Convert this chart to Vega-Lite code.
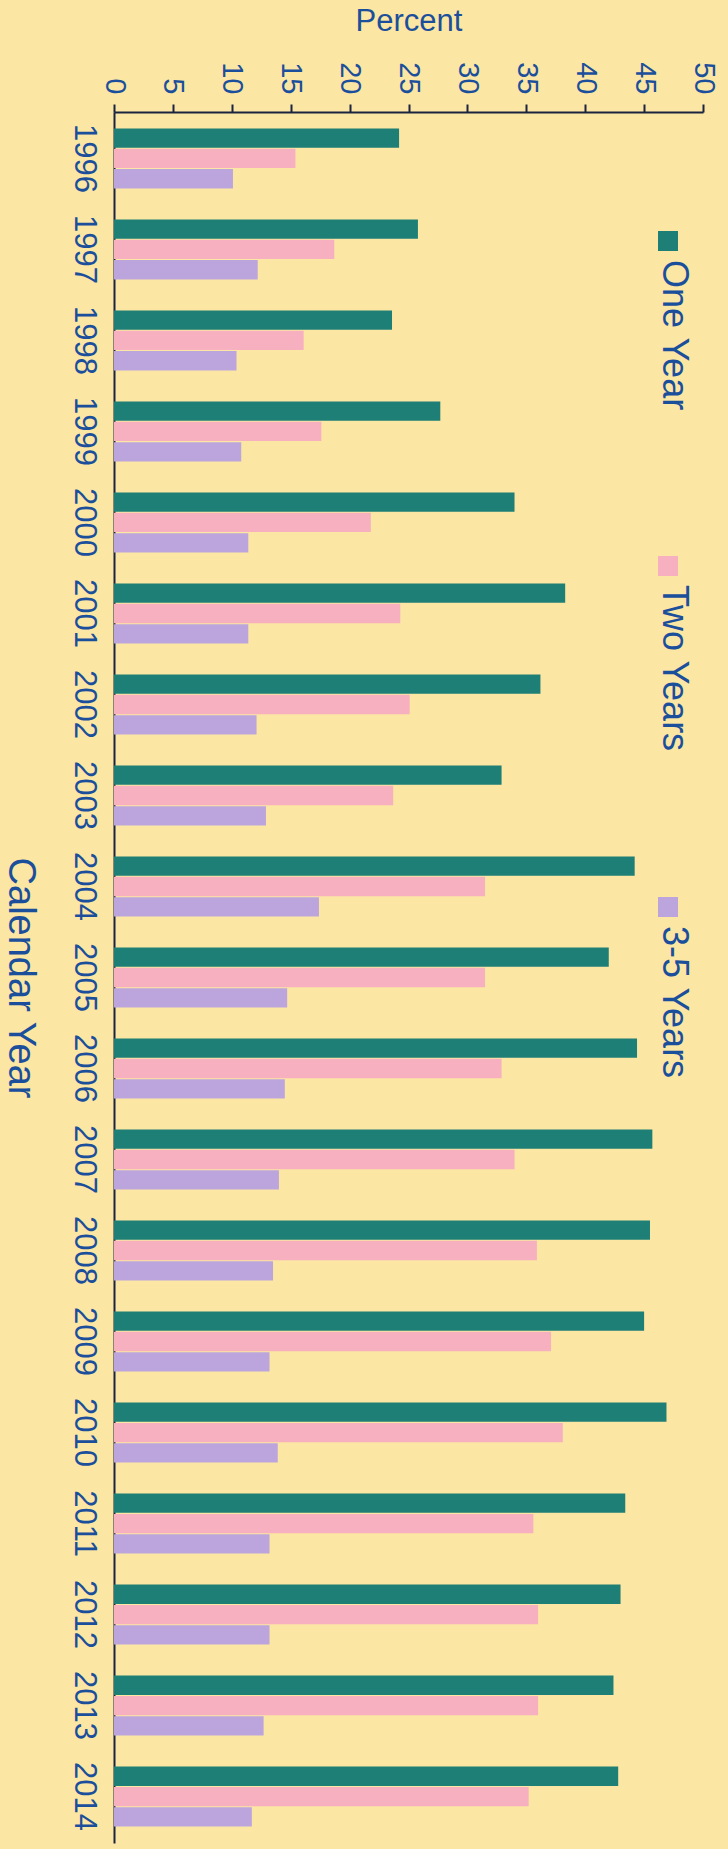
{
  "$schema": "https://vega.github.io/schema/vega-lite/v6.json",
  "width": 589,
  "height": 1731,
  "autosize": {"type": "none"},
  "padding": {"left": 114, "top": 112, "right": 25, "bottom": 6},
  "background": "#FBE6A3",
  "config": {"view": {"stroke": null}, "font": "Liberation Sans"},
  "data": {
    "values": [
      {"year": "1996", "series": "One Year", "pct": 24.2},
      {"year": "1996", "series": "Two Years", "pct": 15.4},
      {"year": "1996", "series": "3-5 Years", "pct": 10.1},
      {"year": "1997", "series": "One Year", "pct": 25.8},
      {"year": "1997", "series": "Two Years", "pct": 18.7},
      {"year": "1997", "series": "3-5 Years", "pct": 12.2},
      {"year": "1998", "series": "One Year", "pct": 23.6},
      {"year": "1998", "series": "Two Years", "pct": 16.1},
      {"year": "1998", "series": "3-5 Years", "pct": 10.4},
      {"year": "1999", "series": "One Year", "pct": 27.7},
      {"year": "1999", "series": "Two Years", "pct": 17.6},
      {"year": "1999", "series": "3-5 Years", "pct": 10.8},
      {"year": "2000", "series": "One Year", "pct": 34.0},
      {"year": "2000", "series": "Two Years", "pct": 21.8},
      {"year": "2000", "series": "3-5 Years", "pct": 11.4},
      {"year": "2001", "series": "One Year", "pct": 38.3},
      {"year": "2001", "series": "Two Years", "pct": 24.3},
      {"year": "2001", "series": "3-5 Years", "pct": 11.4},
      {"year": "2002", "series": "One Year", "pct": 36.2},
      {"year": "2002", "series": "Two Years", "pct": 25.1},
      {"year": "2002", "series": "3-5 Years", "pct": 12.1},
      {"year": "2003", "series": "One Year", "pct": 32.9},
      {"year": "2003", "series": "Two Years", "pct": 23.7},
      {"year": "2003", "series": "3-5 Years", "pct": 12.9},
      {"year": "2004", "series": "One Year", "pct": 44.2},
      {"year": "2004", "series": "Two Years", "pct": 31.5},
      {"year": "2004", "series": "3-5 Years", "pct": 17.4},
      {"year": "2005", "series": "One Year", "pct": 42.0},
      {"year": "2005", "series": "Two Years", "pct": 31.5},
      {"year": "2005", "series": "3-5 Years", "pct": 14.7},
      {"year": "2006", "series": "One Year", "pct": 44.4},
      {"year": "2006", "series": "Two Years", "pct": 32.9},
      {"year": "2006", "series": "3-5 Years", "pct": 14.5},
      {"year": "2007", "series": "One Year", "pct": 45.7},
      {"year": "2007", "series": "Two Years", "pct": 34.0},
      {"year": "2007", "series": "3-5 Years", "pct": 14.0},
      {"year": "2008", "series": "One Year", "pct": 45.5},
      {"year": "2008", "series": "Two Years", "pct": 35.9},
      {"year": "2008", "series": "3-5 Years", "pct": 13.5},
      {"year": "2009", "series": "One Year", "pct": 45.0},
      {"year": "2009", "series": "Two Years", "pct": 37.1},
      {"year": "2009", "series": "3-5 Years", "pct": 13.2},
      {"year": "2010", "series": "One Year", "pct": 46.9},
      {"year": "2010", "series": "Two Years", "pct": 38.1},
      {"year": "2010", "series": "3-5 Years", "pct": 13.9},
      {"year": "2011", "series": "One Year", "pct": 43.4},
      {"year": "2011", "series": "Two Years", "pct": 35.6},
      {"year": "2011", "series": "3-5 Years", "pct": 13.2},
      {"year": "2012", "series": "One Year", "pct": 43.0},
      {"year": "2012", "series": "Two Years", "pct": 36.0},
      {"year": "2012", "series": "3-5 Years", "pct": 13.2},
      {"year": "2013", "series": "One Year", "pct": 42.4},
      {"year": "2013", "series": "Two Years", "pct": 36.0},
      {"year": "2013", "series": "3-5 Years", "pct": 12.7},
      {"year": "2014", "series": "One Year", "pct": 42.8},
      {"year": "2014", "series": "Two Years", "pct": 35.2},
      {"year": "2014", "series": "3-5 Years", "pct": 11.7}
    ]
  },
  "mark": {"type": "bar"},
  "encoding": {
    "y": {
      "field": "year",
      "type": "nominal",
      "scale": {"paddingInner": 0.34, "paddingOuter": 0.18},
      "axis": {
        "title": "Calendar Year",
        "titleAngle": 90,
        "titleBaseline": "top",
        "titleFontSize": 38,
        "titleFontWeight": "normal",
        "titleColor": "#1B4F9C",
        "titlePadding": 30,
        "labelAngle": 90,
        "labelAlign": "center",
        "labelBaseline": "top",
        "labelFontSize": 31,
        "labelColor": "#1B4F9C",
        "labelPadding": 16,
        "ticks": false,
        "domainColor": "#1A2340",
        "domainWidth": 2
      }
    },
    "x": {
      "field": "pct",
      "type": "quantitative",
      "scale": {"domain": [0, 50]},
      "axis": {
        "orient": "top",
        "values": [0, 5, 10, 15, 20, 25, 30, 35, 40, 45, 50],
        "grid": false,
        "title": "Percent",
        "titleFontSize": 31,
        "titleFontWeight": "normal",
        "titleColor": "#1B4F9C",
        "titlePadding": 24,
        "labelAngle": 90,
        "labelAlign": "right",
        "labelBaseline": "middle",
        "labelFontSize": 29,
        "labelColor": "#1B4F9C",
        "labelPadding": 10,
        "tickSize": 8,
        "tickColor": "#1A2340",
        "tickWidth": 2,
        "domainColor": "#1A2340",
        "domainWidth": 2
      }
    },
    "yOffset": {
      "field": "series",
      "type": "nominal",
      "sort": ["One Year", "Two Years", "3-5 Years"],
      "scale": {"paddingInner": 0.05}
    },
    "color": {
      "field": "series",
      "type": "nominal",
      "sort": ["One Year", "Two Years", "3-5 Years"],
      "scale": {
        "domain": ["One Year", "Two Years", "3-5 Years"],
        "range": ["#1E7F77", "#F7B0C0", "#BCA5DD"]
      },
      "legend": {
        "orient": "none",
        "legendX": 536,
        "legendY": 111,
        "direction": "vertical",
        "title": null,
        "symbolType": "square",
        "symbolSize": 400,
        "symbolStrokeWidth": 0,
        "labelFontSize": 36,
        "labelColor": "#1B4F9C",
        "labelOffset": 0,
        "labelLimit": 0,
        "rowPadding": 137,
        "encode": {
          "labels": {
            "update": {
              "angle": {"value": 90},
              "align": {"value": "left"},
              "baseline": {"value": "middle"},
              "dx": {"value": 19},
              "dy": {"value": 12}
            }
          }
        }
      }
    }
  }
}
